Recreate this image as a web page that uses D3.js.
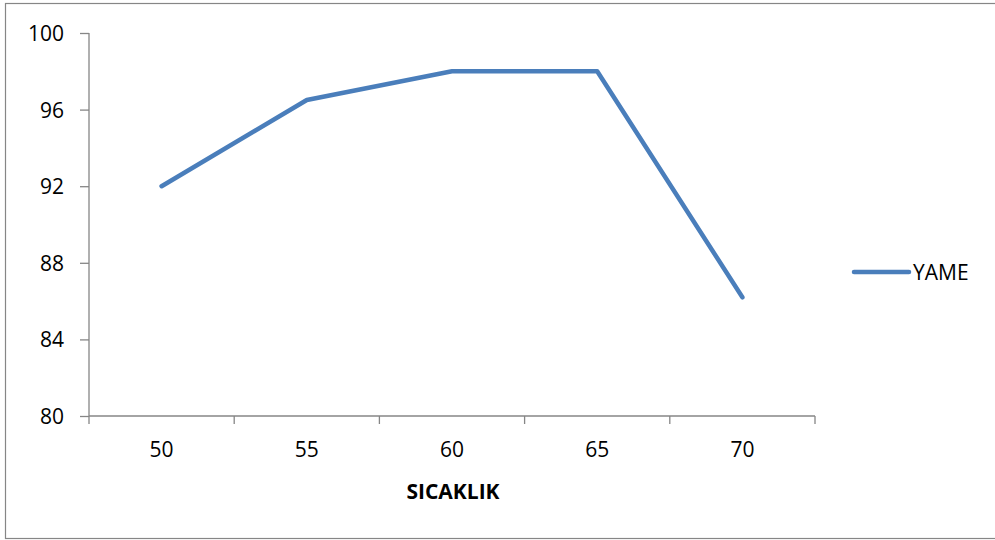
<!DOCTYPE html>
<html>
<head>
<meta charset="utf-8">
<script src="https://cdn.jsdelivr.net/npm/d3@7"></script>
<style>
  body { margin: 0; background: #fff; }
  svg text { font-family: "Open Sans", Lato, sans-serif; }
</style>
</head>
<body>
<div id="chart"></div>
<script>
// chart values
const categories = ["50", "55", "60", "65", "70"];
const yameValues = [92, 96.5, 98, 98, 86.2];
const yTicks = [80, 84, 88, 92, 96, 100];
const seriesName = "YAME";
const xTitle = "SICAKLIK";

const W = 995, H = 540;
const margin = { top: 33, right: 180, bottom: 124, left: 89 };
const width = 815 - margin.left;
const height = 416 - margin.top;
const blue = "#4a7ebb";
const axisGrey = "#868686";

const svg = d3.select("#chart")
    .append("svg")
    .attr("width", W)
    .attr("height", H);

// outer chart border
svg.append("rect")
    .attr("x", 5.5)
    .attr("y", 3.5)
    .attr("width", W)
    .attr("height", 535)
    .attr("fill", "none")
    .attr("stroke", axisGrey)
    .attr("stroke-width", 1.2);

const g = svg.append("g")
    .attr("transform", `translate(${margin.left},${margin.top})`);

const x = d3.scaleBand()
    .domain(categories)
    .range([0, width]);

const y = d3.scaleLinear()
    .domain([80, 100])
    .range([height, 0]);

// y axis
const yAxis = g.append("g")
    .call(d3.axisLeft(y).tickValues(yTicks).tickSize(9).tickPadding(16))
    .attr("font-family", null);
yAxis.selectAll("line, path").attr("stroke", axisGrey).attr("stroke-width", 1.3);
yAxis.select(".domain").attr("d", `M0,${height}V0`);
yAxis.selectAll("text")
    .attr("fill", "#000")
    .style("font-size", "21px")
    .attr("dy", "0.36em");

// x axis, ticks on category boundaries
const xAxis = g.append("g")
    .attr("transform", `translate(0,${height})`)
    .call(d3.axisBottom(x).tickSize(0).tickPadding(26))
    .attr("font-family", null);
xAxis.select(".domain").attr("stroke", axisGrey).attr("stroke-width", 1.3)
    .attr("d", `M0,0H${width}`);
xAxis.selectAll("text")
    .attr("fill", "#000")
    .style("font-size", "21px");

const bounds = categories.map(c => x(c)).concat([width]);
xAxis.selectAll(".bound")
    .data(bounds)
    .enter()
    .append("line")
    .attr("class", "bound")
    .attr("x1", d => d)
    .attr("x2", d => d)
    .attr("y1", 0)
    .attr("y2", 8)
    .attr("stroke", axisGrey)
    .attr("stroke-width", 1.3);

// axis title
g.append("text")
    .attr("x", width / 2 + 1)
    .attr("y", height + 83)
    .attr("text-anchor", "middle")
    .style("font-size", "21px")
    .style("font-weight", "bold")
    .text(xTitle);

// series line
const line = d3.line()
    .x((d, i) => x(categories[i]) + x.bandwidth() / 2)
    .y(d => y(d));

g.append("path")
    .datum(yameValues)
    .attr("fill", "none")
    .attr("stroke", blue)
    .attr("stroke-width", 4.5)
    .attr("stroke-linecap", "round")
    .attr("stroke-linejoin", "round")
    .attr("d", line);

// legend
const legend = svg.append("g")
    .attr("transform", "translate(854,272)");
legend.append("line")
    .attr("x1", 0)
    .attr("x2", 55)
    .attr("stroke", blue)
    .attr("stroke-width", 4.5)
    .attr("stroke-linecap", "round");
legend.append("text")
    .attr("x", 59)
    .attr("dy", "0.36em")
    .style("font-size", "21px")
    .text(seriesName);
</script>
</body>
</html>
